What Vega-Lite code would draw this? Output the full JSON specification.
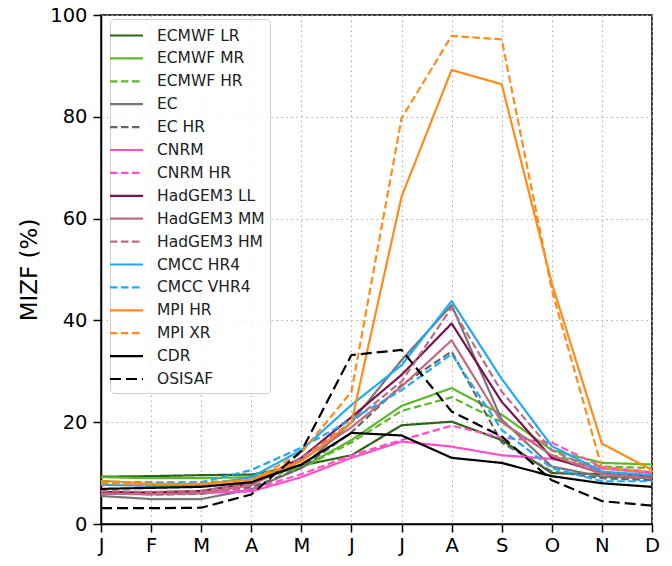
{
  "$schema": "https://vega.github.io/schema/vega-lite/v6.json",
  "width": 551,
  "height": 509,
  "autosize": {"type": "none"},
  "padding": {"left": 101, "top": 15, "right": 20, "bottom": 42},
  "background": "white",
  "config": {
    "font": "DejaVu Sans",
    "view": {"stroke": "black", "strokeWidth": 1.5},
    "axis": {
      "domainColor": "black", "domainWidth": 1.5,
      "tickColor": "black", "tickWidth": 1.5, "tickSize": 8,
      "labelColor": "black", "labelFontSize": 19.5, "labelFont": "DejaVu Sans",
      "gridColor": "#b0b0b0", "gridDash": [1.5, 3.5], "gridWidth": 1.2,
      "titleFont": "DejaVu Sans", "titleFontWeight": "normal", "titleColor": "black"
    },
    "legend": {
      "labelFont": "DejaVu Sans", "labelFontSize": 15.5, "labelColor": "#222222"
    }
  },
  "data": {"values": [
    {"s":"ECMWF LR","m":1,"v":9.3},{"s":"ECMWF LR","m":2,"v":9.4},{"s":"ECMWF LR","m":3,"v":9.6},{"s":"ECMWF LR","m":4,"v":9.7},{"s":"ECMWF LR","m":5,"v":11.5},{"s":"ECMWF LR","m":6,"v":13.5},{"s":"ECMWF LR","m":7,"v":19.4},{"s":"ECMWF LR","m":8,"v":20.1},{"s":"ECMWF LR","m":9,"v":16.5},{"s":"ECMWF LR","m":10,"v":10.0},{"s":"ECMWF LR","m":11,"v":9.8},{"s":"ECMWF LR","m":12,"v":9.5},
    {"s":"ECMWF MR","m":1,"v":9.2},{"s":"ECMWF MR","m":2,"v":9.0},{"s":"ECMWF MR","m":3,"v":9.0},{"s":"ECMWF MR","m":4,"v":9.2},{"s":"ECMWF MR","m":5,"v":11.0},{"s":"ECMWF MR","m":6,"v":16.5},{"s":"ECMWF MR","m":7,"v":23.2},{"s":"ECMWF MR","m":8,"v":26.7},{"s":"ECMWF MR","m":9,"v":21.5},{"s":"ECMWF MR","m":10,"v":14.5},{"s":"ECMWF MR","m":11,"v":12.0},{"s":"ECMWF MR","m":12,"v":11.7},
    {"s":"ECMWF HR","m":1,"v":8.3},{"s":"ECMWF HR","m":2,"v":8.2},{"s":"ECMWF HR","m":3,"v":8.2},{"s":"ECMWF HR","m":4,"v":8.6},{"s":"ECMWF HR","m":5,"v":11.0},{"s":"ECMWF HR","m":6,"v":16.0},{"s":"ECMWF HR","m":7,"v":22.2},{"s":"ECMWF HR","m":8,"v":24.9},{"s":"ECMWF HR","m":9,"v":20.0},{"s":"ECMWF HR","m":10,"v":13.5},{"s":"ECMWF HR","m":11,"v":11.3},{"s":"ECMWF HR","m":12,"v":11.0},
    {"s":"EC","m":1,"v":5.5},{"s":"EC","m":2,"v":4.9},{"s":"EC","m":3,"v":4.9},{"s":"EC","m":4,"v":6.8},{"s":"EC","m":5,"v":11.0},{"s":"EC","m":6,"v":20.0},{"s":"EC","m":7,"v":32.2},{"s":"EC","m":8,"v":43.0},{"s":"EC","m":9,"v":20.5},{"s":"EC","m":10,"v":11.3},{"s":"EC","m":11,"v":9.3},{"s":"EC","m":12,"v":9.0},
    {"s":"EC HR","m":1,"v":6.3},{"s":"EC HR","m":2,"v":5.8},{"s":"EC HR","m":3,"v":5.9},{"s":"EC HR","m":4,"v":7.2},{"s":"EC HR","m":5,"v":11.0},{"s":"EC HR","m":6,"v":18.0},{"s":"EC HR","m":7,"v":27.3},{"s":"EC HR","m":8,"v":33.9},{"s":"EC HR","m":9,"v":16.0},{"s":"EC HR","m":10,"v":10.3},{"s":"EC HR","m":11,"v":9.0},{"s":"EC HR","m":12,"v":8.6},
    {"s":"CNRM","m":1,"v":5.9},{"s":"CNRM","m":2,"v":5.9},{"s":"CNRM","m":3,"v":6.1},{"s":"CNRM","m":4,"v":6.4},{"s":"CNRM","m":5,"v":9.2},{"s":"CNRM","m":6,"v":13.0},{"s":"CNRM","m":7,"v":16.2},{"s":"CNRM","m":8,"v":15.2},{"s":"CNRM","m":9,"v":13.5},{"s":"CNRM","m":10,"v":12.8},{"s":"CNRM","m":11,"v":10.9},{"s":"CNRM","m":12,"v":10.0},
    {"s":"CNRM HR","m":1,"v":6.1},{"s":"CNRM HR","m":2,"v":6.0},{"s":"CNRM HR","m":3,"v":6.2},{"s":"CNRM HR","m":4,"v":6.8},{"s":"CNRM HR","m":5,"v":9.8},{"s":"CNRM HR","m":6,"v":13.5},{"s":"CNRM HR","m":7,"v":16.5},{"s":"CNRM HR","m":8,"v":19.3},{"s":"CNRM HR","m":9,"v":17.0},{"s":"CNRM HR","m":10,"v":16.0},{"s":"CNRM HR","m":11,"v":11.2},{"s":"CNRM HR","m":12,"v":10.2},
    {"s":"HadGEM3 LL","m":1,"v":6.3},{"s":"HadGEM3 LL","m":2,"v":6.2},{"s":"HadGEM3 LL","m":3,"v":6.5},{"s":"HadGEM3 LL","m":4,"v":8.0},{"s":"HadGEM3 LL","m":5,"v":13.0},{"s":"HadGEM3 LL","m":6,"v":21.0},{"s":"HadGEM3 LL","m":7,"v":29.3},{"s":"HadGEM3 LL","m":8,"v":39.4},{"s":"HadGEM3 LL","m":9,"v":24.0},{"s":"HadGEM3 LL","m":10,"v":13.0},{"s":"HadGEM3 LL","m":11,"v":10.0},{"s":"HadGEM3 LL","m":12,"v":9.3},
    {"s":"HadGEM3 MM","m":1,"v":6.0},{"s":"HadGEM3 MM","m":2,"v":5.8},{"s":"HadGEM3 MM","m":3,"v":6.0},{"s":"HadGEM3 MM","m":4,"v":7.6},{"s":"HadGEM3 MM","m":5,"v":12.5},{"s":"HadGEM3 MM","m":6,"v":19.0},{"s":"HadGEM3 MM","m":7,"v":27.0},{"s":"HadGEM3 MM","m":8,"v":36.1},{"s":"HadGEM3 MM","m":9,"v":20.0},{"s":"HadGEM3 MM","m":10,"v":13.5},{"s":"HadGEM3 MM","m":11,"v":9.8},{"s":"HadGEM3 MM","m":12,"v":9.0},
    {"s":"HadGEM3 HM","m":1,"v":6.5},{"s":"HadGEM3 HM","m":2,"v":6.3},{"s":"HadGEM3 HM","m":3,"v":6.5},{"s":"HadGEM3 HM","m":4,"v":8.0},{"s":"HadGEM3 HM","m":5,"v":13.0},{"s":"HadGEM3 HM","m":6,"v":20.0},{"s":"HadGEM3 HM","m":7,"v":28.0},{"s":"HadGEM3 HM","m":8,"v":42.5},{"s":"HadGEM3 HM","m":9,"v":26.0},{"s":"HadGEM3 HM","m":10,"v":14.5},{"s":"HadGEM3 HM","m":11,"v":10.0},{"s":"HadGEM3 HM","m":12,"v":9.5},
    {"s":"CMCC HR4","m":1,"v":7.7},{"s":"CMCC HR4","m":2,"v":7.5},{"s":"CMCC HR4","m":3,"v":7.6},{"s":"CMCC HR4","m":4,"v":9.2},{"s":"CMCC HR4","m":5,"v":14.5},{"s":"CMCC HR4","m":6,"v":23.4},{"s":"CMCC HR4","m":7,"v":31.2},{"s":"CMCC HR4","m":8,"v":43.8},{"s":"CMCC HR4","m":9,"v":28.5},{"s":"CMCC HR4","m":10,"v":15.3},{"s":"CMCC HR4","m":11,"v":10.3},{"s":"CMCC HR4","m":12,"v":9.6},
    {"s":"CMCC VHR4","m":1,"v":8.0},{"s":"CMCC VHR4","m":2,"v":8.0},{"s":"CMCC VHR4","m":3,"v":8.2},{"s":"CMCC VHR4","m":4,"v":10.6},{"s":"CMCC VHR4","m":5,"v":15.0},{"s":"CMCC VHR4","m":6,"v":20.5},{"s":"CMCC VHR4","m":7,"v":26.3},{"s":"CMCC VHR4","m":8,"v":33.4},{"s":"CMCC VHR4","m":9,"v":18.5},{"s":"CMCC VHR4","m":10,"v":11.0},{"s":"CMCC VHR4","m":11,"v":8.4},{"s":"CMCC VHR4","m":12,"v":8.4},
    {"s":"MPI HR","m":1,"v":8.5},{"s":"MPI HR","m":2,"v":7.9},{"s":"MPI HR","m":3,"v":7.9},{"s":"MPI HR","m":4,"v":8.7},{"s":"MPI HR","m":5,"v":12.3},{"s":"MPI HR","m":6,"v":20.0},{"s":"MPI HR","m":7,"v":64.3},{"s":"MPI HR","m":8,"v":89.2},{"s":"MPI HR","m":9,"v":86.4},{"s":"MPI HR","m":10,"v":47.3},{"s":"MPI HR","m":11,"v":15.8},{"s":"MPI HR","m":12,"v":10.6},
    {"s":"MPI XR","m":1,"v":8.0},{"s":"MPI XR","m":2,"v":7.8},{"s":"MPI XR","m":3,"v":7.8},{"s":"MPI XR","m":4,"v":8.5},{"s":"MPI XR","m":5,"v":14.0},{"s":"MPI XR","m":6,"v":26.0},{"s":"MPI XR","m":7,"v":79.7},{"s":"MPI XR","m":8,"v":95.9},{"s":"MPI XR","m":9,"v":95.2},{"s":"MPI XR","m":10,"v":46.0},{"s":"MPI XR","m":11,"v":11.0},{"s":"MPI XR","m":12,"v":10.2},
    {"s":"CDR","m":1,"v":6.9},{"s":"CDR","m":2,"v":7.1},{"s":"CDR","m":3,"v":7.3},{"s":"CDR","m":4,"v":8.2},{"s":"CDR","m":5,"v":11.7},{"s":"CDR","m":6,"v":17.9},{"s":"CDR","m":7,"v":17.4},{"s":"CDR","m":8,"v":13.0},{"s":"CDR","m":9,"v":12.0},{"s":"CDR","m":10,"v":9.4},{"s":"CDR","m":11,"v":8.0},{"s":"CDR","m":12,"v":7.3},
    {"s":"OSISAF","m":1,"v":3.1},{"s":"OSISAF","m":2,"v":3.1},{"s":"OSISAF","m":3,"v":3.2},{"s":"OSISAF","m":4,"v":5.8},{"s":"OSISAF","m":5,"v":14.3},{"s":"OSISAF","m":6,"v":33.2},{"s":"OSISAF","m":7,"v":34.2},{"s":"OSISAF","m":8,"v":22.1},{"s":"OSISAF","m":9,"v":17.2},{"s":"OSISAF","m":10,"v":8.6},{"s":"OSISAF","m":11,"v":4.5},{"s":"OSISAF","m":12,"v":3.6}
  ]},
  "mark": {"type": "line", "clip": true, "strokeJoin": "round", "strokeCap": "butt"},
  "encoding": {
    "x": {
      "field": "m", "type": "quantitative",
      "scale": {"domain": [1, 12], "nice": false, "zero": false},
      "axis": {
        "title": null, "values": [1,2,3,4,5,6,7,8,9,10,11,12],
        "labelExpr": "['J','F','M','A','M','J','J','A','S','O','N','D'][datum.value-1]",
        "labelPadding": 4, "labelFlush": false, "labelOverlap": false
      }
    },
    "y": {
      "field": "v", "type": "quantitative",
      "scale": {"domain": [0, 100], "nice": false},
      "axis": {
        "title": "MIZF (%)", "titleFontSize": 23, "titlePadding": 8,
        "values": [0,20,40,60,80,100], "labelPadding": 6
      }
    },
    "color": {
      "field": "s", "type": "nominal",
      "scale": {
        "domain": ["ECMWF LR","ECMWF MR","ECMWF HR","EC","EC HR","CNRM","CNRM HR","HadGEM3 LL","HadGEM3 MM","HadGEM3 HM","CMCC HR4","CMCC VHR4","MPI HR","MPI XR","CDR","OSISAF"],
        "range": ["#2a6417","#5cb82a","#5cb82a","#777777","#666666","#ff4fc8","#ff4fc8","#7b1248","#c06b7f","#c06b7f","#1eaaf5","#1eaaf5","#ff8c1a","#ff8c1a","#000000","#000000"]
      },
      "legend": {
        "title": null, "orient": "none", "legendX": 9, "legendY": 4,
        "symbolType": "M-1.65,0H1.65", "symbolSize": 400, "labelOffset": 19,
        "rowPadding": 2.9, "padding": 5,
        "fillColor": "rgba(255,255,255,0.85)", "strokeColor": "#cccccc", "cornerRadius": 4,
        "labelLimit": 300
      }
    },
    "strokeDash": {
      "field": "s", "type": "nominal",
      "scale": {
        "domain": ["ECMWF LR","ECMWF MR","ECMWF HR","EC","EC HR","CNRM","CNRM HR","HadGEM3 LL","HadGEM3 MM","HadGEM3 HM","CMCC HR4","CMCC VHR4","MPI HR","MPI XR","CDR","OSISAF"],
        "range": [[1,0],[1,0],[7.5,3.5],[1,0],[7.5,3.5],[1,0],[7.5,3.5],[1,0],[1,0],[7.5,3.5],[1,0],[7.5,3.5],[1,0],[7.5,3.5],[1,0],[11,5]]
      }
    },
    "strokeWidth": {
      "field": "s", "type": "nominal",
      "scale": {
        "domain": ["ECMWF LR","ECMWF MR","ECMWF HR","EC","EC HR","CNRM","CNRM HR","HadGEM3 LL","HadGEM3 MM","HadGEM3 HM","CMCC HR4","CMCC VHR4","MPI HR","MPI XR","CDR","OSISAF"],
        "range": [2.2,2.2,2.2,2.2,2.2,2.2,2.2,2.2,2.2,2.2,2.2,2.2,2.2,2.2,3.5,3.5]
      }
    }
  }
}
